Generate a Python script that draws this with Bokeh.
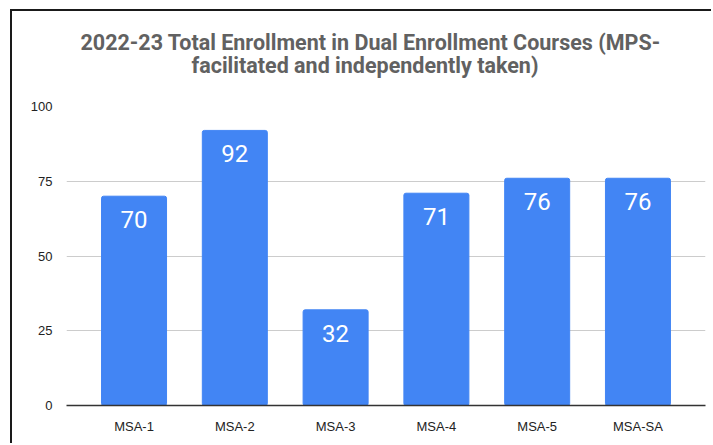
from bokeh.plotting import figure
from bokeh.models import ColumnDataSource, FactorRange, Title, FixedTicker, LabelSet
from bokeh.core.properties import value
from bokeh.embed import file_html
from bokeh.resources import INLINE

categories = ["MSA-1", "MSA-2", "MSA-3", "MSA-4", "MSA-5", "MSA-SA"]
enrollment = [70, 92, 32, 71, 76, 76]
y_ticks = [0, 25, 50, 75, 100]
title_lines = ["2022-23 Total Enrollment in Dual Enrollment Courses (MPS-",
               "facilitated and independently taken)"]

src = ColumnDataSource(dict(cat=categories, val=enrollment, lab=[str(v) for v in enrollment]))

p = figure(width=701, height=434, output_backend="svg", toolbar_location=None,
           x_range=FactorRange(*categories, range_padding=0.0567, range_padding_units="percent"),
           y_range=(0, 100),
           min_border_left=54, min_border_right=8, min_border_top=95, min_border_bottom=40)
p.margin = (9, 0, 0, 10)
p.styles = {"border-top": "2px solid #1a1a1a", "border-left": "2px solid #1a1a1a"}
p.outline_line_color = None
p.background_fill_color = "white"
p.border_fill_color = "white"

p.vbar(x="cat", top="val", width=0.645, source=src, color="#4285F4", border_radius=2)

labels = LabelSet(x="cat", y="val", text="lab", source=src, text_align="center",
                  text_baseline="top", y_offset=-15, text_color="white",
                  text_font=value("Roboto"), text_font_size="24px")
p.add_layout(labels)

p.yaxis.ticker = FixedTicker(ticks=y_ticks)
p.yaxis.axis_line_color = None
p.yaxis.major_tick_line_color = None
p.yaxis.minor_tick_line_color = None
p.yaxis.major_label_standoff = 8
p.yaxis.major_label_text_font = "Liberation Sans"
p.yaxis.major_label_text_font_size = "13px"
p.yaxis.major_label_text_color = "#222222"

p.xaxis.axis_line_color = "#333333"
p.xaxis.axis_line_width = 1.5
p.xaxis.major_tick_line_color = None
p.xaxis.minor_tick_line_color = None
p.xaxis.major_label_standoff = 7
p.xaxis.major_label_text_font = "Liberation Sans"
p.xaxis.major_label_text_font_size = "13px"
p.xaxis.major_label_text_color = "#222222"

p.xgrid.grid_line_color = None
p.ygrid.ticker = FixedTicker(ticks=y_ticks)
p.ygrid.grid_line_color = "#cccccc"

p.title = None
for t, so, off in [(title_lines[1], 57, 125), (title_lines[0], -65, 14)]:
    p.add_layout(Title(text=t, align="left", offset=off, standoff=so,
                       text_font="Roboto", text_font_style="bold",
                       text_font_size="21.5px", text_color="#616161"), "above")

open("out.html", "w").write(file_html(p, INLINE))
